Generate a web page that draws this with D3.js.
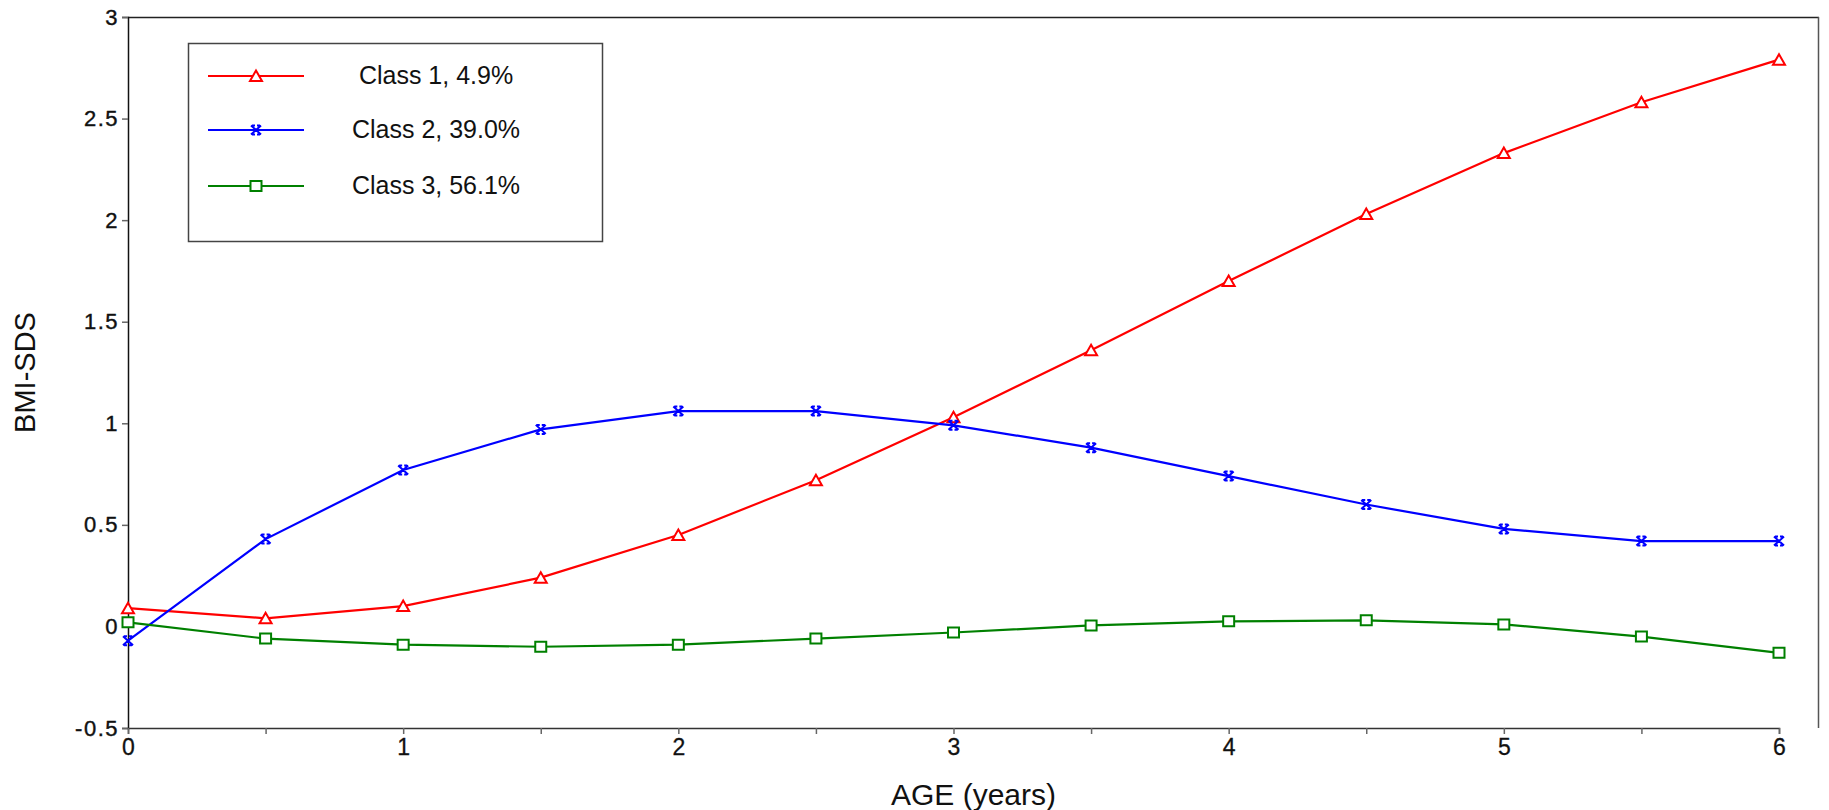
<!DOCTYPE html>
<html>
<head>
<meta charset="utf-8">
<script src="https://cdn.jsdelivr.net/npm/d3@7"></script>
<style>
  html, body { margin: 0; padding: 0; background: #fff; }
  svg { display: block; font-family: "Liberation Sans", Arial, sans-serif; }
</style>
</head>
<body>
<svg id="chart" width="1829" height="810"></svg>
<script>
const ages = [0, 0.5, 1, 1.5, 2, 2.5, 3, 3.5, 4, 4.5, 5, 5.5, 6];
const class1 = [0.09, 0.04, 0.10, 0.24, 0.45, 0.72, 1.03, 1.36, 1.70, 2.03, 2.33, 2.58, 2.79];
const class2 = [-0.07, 0.43, 0.77, 0.97, 1.06, 1.06, 0.99, 0.88, 0.74, 0.60, 0.48, 0.42, 0.42];
const class3 = [0.02, -0.06, -0.09, -0.10, -0.09, -0.06, -0.03, 0.005, 0.025, 0.03, 0.01, -0.05, -0.13];
const seriesNames = ["Class 1, 4.9%", "Class 2, 39.0%", "Class 3, 56.1%"];
const seriesColors = ["#ff0000", "#0000ff", "#008000"];
const seriesMarkers = ["triangle", "cross", "square"];
const yTicks = [-0.5, 0, 0.5, 1, 1.5, 2, 2.5, 3];
const xTicks = [0, 0.5, 1, 1.5, 2, 2.5, 3, 3.5, 4, 4.5, 5, 5.5, 6];
const xLabels = [0, 1, 2, 3, 4, 5, 6];

const svg = d3.select("#chart");
const L = 128, R = 1819, T = 17, B = 728;
const x = d3.scaleLinear().domain([0, 6]).range([L, 1779]);
const y = d3.scaleLinear().domain([-0.5, 3]).range([B, T]);

// frame
svg.append("line").attr("x1", L).attr("x2", R).attr("y1", T + 0.5).attr("y2", T + 0.5).attr("stroke", "#222").attr("stroke-width", 1.5);
svg.append("line").attr("x1", R - 0.5).attr("x2", R - 0.5).attr("y1", T).attr("y2", B).attr("stroke", "#555").attr("stroke-width", 1.5);

// y axis
const yAxis = d3.axisLeft(y).tickValues(yTicks).tickSize(6).tickPadding(3)
  .tickFormat(d => String(d));
const gy = svg.append("g").attr("transform", `translate(${L},0)`).call(yAxis);
gy.attr("font-size", null).attr("font-family", null);
gy.select(".domain").attr("stroke", "#111").attr("stroke-width", 1.5);
gy.selectAll(".tick line").attr("stroke", "#666").attr("stroke-width", 1.5);
gy.selectAll(".tick text").style("font-size", "22px").attr("fill", "#111")
  .attr("stroke", "#111").attr("stroke-width", 0.4)
  .style("font-family", "Liberation Sans, Arial, sans-serif").style("letter-spacing", "1.5px");

// x axis
const xAxis = d3.axisBottom(x).tickValues(xTicks).tickSize(6).tickPadding(5)
  .tickFormat(d => xLabels.includes(d) ? String(d) : "");
const gx = svg.append("g").attr("transform", `translate(0,${B})`).call(xAxis);
gx.attr("font-size", null).attr("font-family", null);
gx.select(".domain").attr("stroke", "#333").attr("stroke-width", 1.5);
gx.selectAll(".tick line").attr("stroke", "#666").attr("stroke-width", 1.5);
gx.selectAll(".tick text").style("font-size", "23px").attr("fill", "#111")
  .attr("stroke", "#111").attr("stroke-width", 0.3)
  .style("font-family", "Liberation Sans, Arial, sans-serif");

// axis titles
svg.append("text").attr("x", (L + R) / 2).attr("y", 805).attr("text-anchor", "middle")
  .attr("font-size", 30).attr("fill", "#111").text("AGE (years)");
svg.append("text").attr("transform", `translate(35,${(T + B) / 2}) rotate(-90)`).attr("text-anchor", "middle")
  .attr("font-size", 29).attr("fill", "#111").text("BMI-SDS");

function markerPath(type) {
  if (type === "triangle") return "M0,-5.5 L6,5 L-6,5 Z";
  if (type === "square") return "M-5.5,-5 L5.5,-5 L5.5,5 L-5.5,5 Z";
  return "M-5,-4.5 L5,4.5 M-5,4.5 L5,-4.5 M-4,-4.5 L-1,-4.5 M1,-4.5 L4,-4.5 M-4,4.5 L-1,4.5 M1,4.5 L4,4.5";
}

const allSeries = [class1, class2, class3];
const line = d3.line().x((d, i) => x(ages[i])).y(d => y(d));
allSeries.forEach((vals, si) => {
  const g = svg.append("g");
  g.append("path").datum(vals).attr("d", line).attr("fill", "none")
    .attr("stroke", seriesColors[si]).attr("stroke-width", 2.2);
  g.selectAll("path.m").data(vals).enter().append("path").attr("class", "m")
    .attr("transform", (d, i) => `translate(${x(ages[i])},${y(d)})`)
    .attr("d", markerPath(seriesMarkers[si]))
    .attr("fill", seriesMarkers[si] === "cross" ? "none" : "#fff")
    .attr("stroke", seriesColors[si]).attr("stroke-width", 2);
});

// legend
const lg = svg.append("g");
lg.append("rect").attr("x", 188.5).attr("y", 43.5).attr("width", 414).attr("height", 198)
  .attr("fill", "#fff").attr("stroke", "#444").attr("stroke-width", 1.5);
const rowsY = [76, 130, 186];
seriesNames.forEach((name, i) => {
  lg.append("line").attr("x1", 208).attr("x2", 304).attr("y1", rowsY[i]).attr("y2", rowsY[i])
    .attr("stroke", seriesColors[i]).attr("stroke-width", 2.2);
  lg.append("path").attr("transform", `translate(256,${rowsY[i]})`).attr("d", markerPath(seriesMarkers[i]))
    .attr("fill", seriesMarkers[i] === "cross" ? "none" : "#fff")
    .attr("stroke", seriesColors[i]).attr("stroke-width", 2);
  lg.append("text").attr("x", 436).attr("y", rowsY[i] + 8).attr("text-anchor", "middle")
    .attr("font-size", 25).attr("fill", "#111").text(name);
});
</script>
</body>
</html>
